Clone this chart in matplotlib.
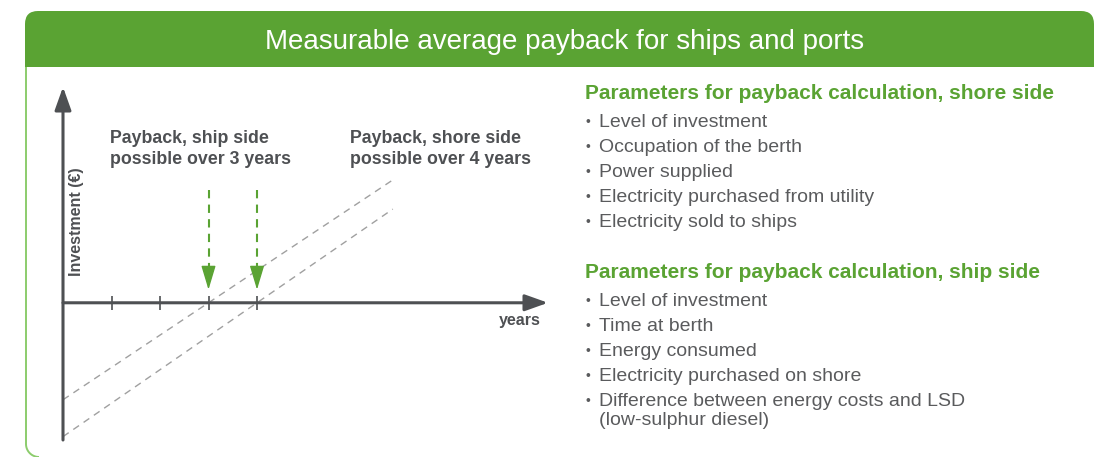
import matplotlib
matplotlib.use("Agg")
import numpy as np
import matplotlib.pyplot as plt
from matplotlib.patches import FancyBboxPatch, Rectangle

plt.rcParams["font.family"] = ["Liberation Sans", "DejaVu Sans"]

# ---- data ----
title = "Measurable average payback for ships and ports"
tick_years = [1, 2, 3, 4]
ship_payback = 3          # years
shore_payback = 4         # years
ship_start = -2.0         # investment at year 0 (arbitrary units)
shore_start = -2.76
line_end = 6.8            # years where the dashed lines stop
x_max, y_min, y_max = 10.0, -2.83, 4.45
marker_top, marker_tip = 2.33, 0.27

ship_label = "Payback, ship side\npossible over 3 years"
shore_label = "Payback, shore side\npossible over 4 years"
xlabel = "years"
ylabel = "Investment (€)"

shore_head = "Parameters for payback calculation, shore side"
shore_items = ["Level of investment", "Occupation of the berth", "Power supplied",
               "Electricity purchased from utility", "Electricity sold to ships"]
ship_head = "Parameters for payback calculation, ship side"
ship_items = ["Level of investment", "Time at berth", "Energy consumed",
              "Electricity purchased on shore",
              "Difference between energy costs and LSD\n(low-sulphur diesel)"]

GREEN = "#5aa333"
LIGHT_GREEN = "#8ccc6c"
DARK = "#4e5053"
GREY_TXT = "#5a5b5d"
W, H = 1097, 457

fig = plt.figure(figsize=(W / 100, H / 100), dpi=100)

# background frame in pixel coordinates
bg = fig.add_axes([0, 0, 1, 1])
bg.set_xlim(0, W)
bg.set_ylim(H, 0)
bg.axis("off")

head = FancyBboxPatch((25, 11), 1069, 80, boxstyle="round,pad=0,rounding_size=13",
                      fc=GREEN, ec="none")
bg.add_patch(head)
head.set_clip_path(Rectangle((0, 0), W, 67, transform=bg.transData))

# left border with rounded bottom corner
t = np.linspace(0, np.pi / 2, 20)
bx = np.r_[26, 39 - 13 * np.cos(t)]
by = np.r_[67, 444 + 13 * np.sin(t)]
bg.plot(bx, by, color=LIGHT_GREEN, lw=1.4, solid_capstyle="butt")

bg.text(565, 42, title, color="white", fontsize=20, ha="center", va="center")


# right hand text
def block(base, heading, items):
    bg.text(585, base, heading, color=GREEN, fontsize=15, fontweight="bold",
            va="baseline")
    y = base + 28
    for it in items:
        bg.text(586, y - 1, "•", color=GREY_TXT, fontsize=10, va="baseline")
        for k, line in enumerate(it.split("\n")):
            bg.text(599, y + 19 * k, line, color=GREY_TXT, fontsize=14, va="baseline")
        y += 25


block(99, shore_head, shore_items)
block(278, ship_head, ship_items)

# ---- schematic chart ----
x0_px, x1_px = 63, 548
y_top_px, y_bot_px = 87, 440
ax = fig.add_axes([x0_px / W, (H - y_bot_px) / H, (x1_px - x0_px) / W,
                   (y_bot_px - y_top_px) / H])
ax.set_xlim(0, x_max)
ax.set_ylim(y_min, y_max)
ax.axis("off")

arrow = dict(arrowstyle="-|>,head_length=1.4,head_width=0.5", color=DARK, lw=2.2,
             mutation_scale=10, shrinkA=0, shrinkB=0)
ax.annotate("", xy=(x_max, 0), xytext=(0, 0), arrowprops=arrow, annotation_clip=False)
ax.annotate("", xy=(0, y_max), xytext=(0, y_min), arrowprops=arrow, annotation_clip=False)
for tk in tick_years:
    ax.plot([tk, tk], [-0.15, 0.15], color=DARK, lw=1.2, solid_capstyle="butt")

for start, pay in [(ship_start, ship_payback), (shore_start, shore_payback)]:
    slope = -start / pay
    ax.plot([0, line_end], [start, start + slope * line_end], color="#a0a0a0",
            lw=1, dashes=(5, 4))

for pay in [ship_payback, shore_payback]:
    ax.plot([pay, pay], [marker_top, marker_tip + 0.3], color=GREEN, lw=1.5,
            dashes=(4, 3))
    ax.annotate("", xy=(pay, marker_tip), xytext=(pay, marker_tip + 0.35),
                arrowprops=dict(arrowstyle="-|>,head_length=1.5,head_width=0.45",
                                color=GREEN, lw=1, mutation_scale=10,
                                shrinkA=0, shrinkB=0))

bg.text(110, 149, ship_label, color=DARK, fontsize=12.8, fontweight="bold",
        va="center", linespacing=1.35)
bg.text(350, 149, shore_label, color=DARK, fontsize=12.8, fontweight="bold",
        va="center", linespacing=1.35)
bg.text(541, 321, xlabel, color=DARK, fontsize=11.5, fontweight="bold", ha="right",
        va="center")
bg.text(76, 222, ylabel, color=DARK, fontsize=11.5, fontweight="bold", rotation=90,
        ha="center", va="center")

fig.savefig("out.png", dpi=100)
